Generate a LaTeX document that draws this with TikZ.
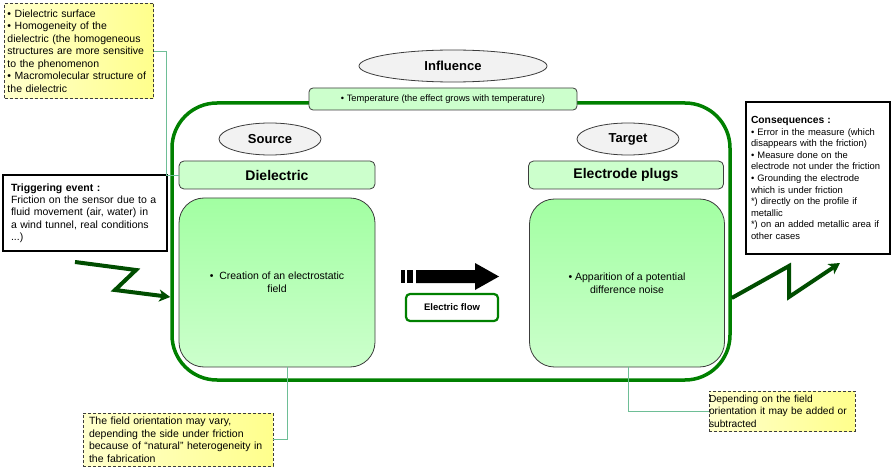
\documentclass[tikz,border=0pt]{standalone}
\usepackage{fontspec}
\setmainfont{Liberation Sans}
\usetikzlibrary{arrows.meta,calc,shapes.geometric}

\definecolor{frameGreen}{RGB}{0,128,0}
\definecolor{zigGreen}{RGB}{0,77,0}
\definecolor{paleGreen}{RGB}{204,255,204}
\definecolor{midGreen}{RGB}{162,255,162}
\definecolor{linkTeal}{RGB}{110,190,150}
\definecolor{noteLight}{RGB}{255,255,205}
\definecolor{noteDeep}{RGB}{255,255,140}
\definecolor{ovalFill}{RGB}{242,242,242}
\definecolor{edgeGray}{RGB}{60,60,60}

\tikzset{
  frame/.style={draw=frameGreen, line width=3.5pt, rounded corners=45pt, inner sep=0pt},
  oval/.style={ellipse, draw=edgeGray, fill=ovalFill, line width=0.8pt, inner sep=0pt,
    font=\fontsize{13}{15}\selectfont\bfseries},
  headbox/.style={draw=edgeGray, fill=paleGreen, rounded corners=5pt, line width=0.8pt,
    inner sep=0pt, font=\fontsize{14}{16}\selectfont\bfseries},
  tempbox/.style={draw=edgeGray, fill=paleGreen, rounded corners=4pt, line width=0.8pt,
    inner sep=0pt, font=\fontsize{9.3}{11}\selectfont},
  bigbox/.style={draw=edgeGray, top color=midGreen, bottom color=paleGreen, rounded corners=25pt,
    line width=0.8pt, inner sep=0pt, align=center, font=\fontsize{10.5}{13}\selectfont},
  note/.style={draw=edgeGray, dash pattern=on 3pt off 2pt, line width=0.9pt,
    left color=noteLight, right color=noteDeep, align=left, inner ysep=2pt,
    font=\fontsize{10.5}{12.5}\selectfont},
  infobox/.style={draw=black, line width=2.5pt, fill=white, align=left, inner ysep=3pt},
  flowbox/.style={draw=frameGreen, line width=2.2pt, rounded corners=4pt, fill=white,
    inner sep=0pt, font=\fontsize{9.5}{11}\selectfont\bfseries},
  link/.style={draw=linkTeal, line width=0.9pt},
  zig/.style={draw=zigGreen, line width=4pt, line join=miter,
    -{Stealth[length=11pt,width=12pt,inset=3pt]}},
}

\begin{document}
\begin{tikzpicture}[x=1pt,y=-1pt]
  \useasboundingbox (0,0) rectangle (892,468);

  % outer frame of the sensor system
  \node[frame, minimum width=558pt, minimum height=277pt] (frame) at (451,241.5) {};

  % influence header
  \node[oval, minimum width=188pt, minimum height=32pt] (influence) at (453,66) {Influence};
  \node[tempbox, minimum width=268pt, minimum height=22pt] (temp) at (443,99)
    {• Temperature (the effect grows with temperature)};

  % source column
  \node[oval, minimum width=102pt, minimum height=32pt] (source) at (270,139) {Source};
  \node[headbox, minimum width=196pt, minimum height=28pt] (diel) at (277,175) {Dielectric};
  \node[bigbox, minimum width=196pt, minimum height=169pt] (lbox) at (277,282.5)
    {•\ \ Creation of an electrostatic\\field};

  % target column
  \node[oval, minimum width=102pt, minimum height=32pt] (target) at (628,139) {Target};
  \node[headbox, minimum width=195pt, minimum height=28pt] (elec) at (626,175) {Electrode plugs};
  \node[bigbox, minimum width=195pt, minimum height=168pt] (rbox) at (627,283)
    {• Apparition of a potential\\difference noise};

  % electric flow arrow
  \fill (401,270) rectangle (405,283);
  \fill (407,270) rectangle (413,283);
  \fill (416,270) -- (475,270) -- (475,263) -- (499,276.5) -- (475,290) -- (475,283) -- (416,283) -- cycle;
  \node[flowbox, minimum width=92pt, minimum height=27pt] (flow) at (452,307.5) {Electric flow};

  % side notes
  \node[note, minimum width=149pt, minimum height=95pt, text width=143pt, inner xsep=3pt] (noteTL) at (79,51)
    {• Dielectric surface\\
     • Homogeneity of the\\
     dielectric (the homogeneous\\
     structures are more sensitive\\
     to the phenomenon\\
     • Macromolecular structure of\\
     the dielectric};
  \node[note, minimum width=190pt, minimum height=53pt, text width=178pt, inner xsep=6pt] (noteBL) at (178,439.5)
    {The field orientation may vary,\\
     depending the side under friction\\
     because of “natural” heterogeneity in\\
     the fabrication};
  \node[note, minimum width=144pt, minimum height=40pt, text width=146pt, inner xsep=0pt,
        font=\fontsize{10.2}{12.5}\selectfont] (noteBR) at (782,411)
    {Depending on the field\\
     orientation it may be added or\\
     subtracted};

  % cause and consequences
  \node[infobox, minimum width=164pt, minimum height=76pt, text width=148pt, inner xsep=8pt,
        font=\fontsize{10.5}{12.3}\selectfont] (trigger) at (85,213)
    {\textbf{Triggering event :}\\
     Friction on the sensor due to a\\
     fluid movement (air, water) in\\
     a wind tunnel, real conditions\\
     ...)};
  \node[infobox, minimum width=144pt, minimum height=152pt, text width=134pt, inner xsep=5pt,
        font=\fontsize{9.4}{11.6}\selectfont] (conseq) at (818,178)
    {{\fontsize{10.3}{11.6}\selectfont\textbf{Consequences :}}\\
     • Error in the measure (which\\
     disappears with the friction)\\
     • Measure done on the\\
     electrode not under the friction\\
     • Grounding the electrode\\
     which is under friction\\
     {*}) directly on the profile if\\
     metallic\\
     {*}) on an added metallic area if\\
     other cases};

  % leader lines from the notes
  \coordinate (tlbend) at (166,0);
  \draw[link] (noteTL.east) -| (tlbend |- diel.west) -- (diel.west);
  \draw[link] (noteBL.east) -| ([xshift=10pt]lbox.south);
  \draw[link] (noteBR.west) -| ([xshift=1pt]rbox.south);

  % zigzag arrows in and out of the system
  \coordinate (zl0) at (75,262);
  \coordinate (zl1) at (136,270);
  \coordinate (zl2) at (115,290);
  \coordinate (zl3) at (frame.west |- 0,297);
  \draw[zig] (zl0) -- (zl1) -- (zl2) -- (zl3);

  \coordinate (zr0) at (frame.east |- 0,298);
  \coordinate (zr1) at (789,266);
  \coordinate (zr2) at (789,297);
  \coordinate (zr3) at (840,263);
  \draw[zig] (zr0) -- (zr1) -- (zr2) -- (zr3);
\end{tikzpicture}
\end{document}
